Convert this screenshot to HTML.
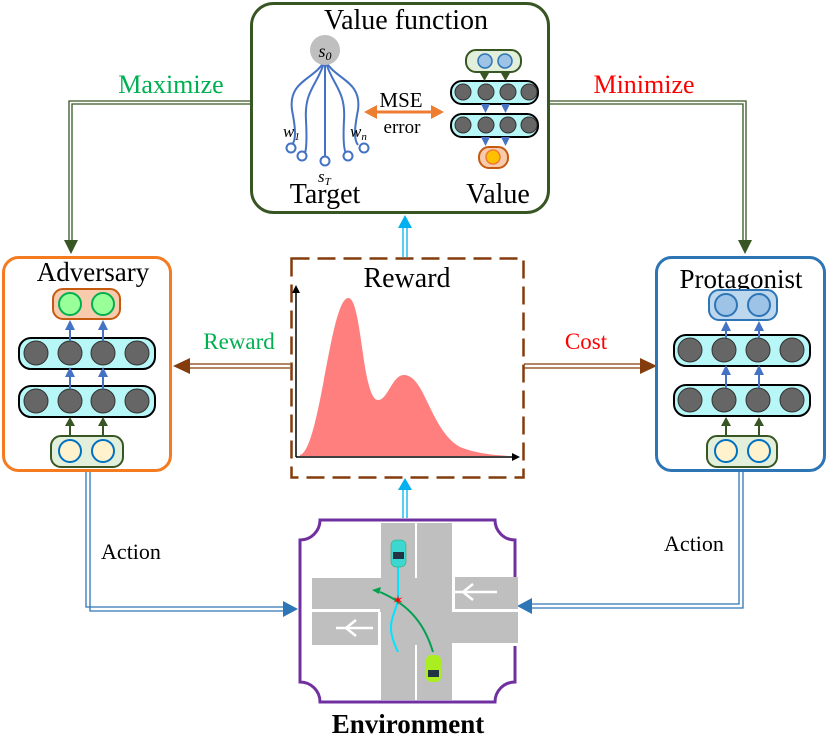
<!DOCTYPE html>
<html><head><meta charset="utf-8"><style>body{margin:0;background:#fff}svg{display:block}text{font-family:"Liberation Serif",serif}</style></head><body>
<svg width="831" height="737" viewBox="0 0 831 737" xmlns="http://www.w3.org/2000/svg">
<!-- connectors -->
<g fill="none" stroke-width="1.3">
<path d="M250,104H72V240M250,101H69V240" stroke="#375623"/>
<path d="M549,104H743V240M549,101H746V240" stroke="#375623"/>
<path d="M290,364H190M290,368H190" stroke="#843C0C"/>
<path d="M524,364H640M524,368H640" stroke="#843C0C"/>
<path d="M403,257V228M407,257V228M403,518V490M407,518V490" stroke="#00B0F0"/>
<path d="M86,471V607H283M90,471V611H283" stroke="#2E75B6"/>
<path d="M739,471V604H532M743,471V608H532" stroke="#2E75B6"/>
</g>
<path d="M64,240h14l-7,14z" fill="#375623"/>
<path d="M738,240h14l-7,14z" fill="#375623"/>
<path d="M190,358v16l-17,-8z" fill="#843C0C"/>
<path d="M640,358v16l17,-8z" fill="#843C0C"/>
<path d="M398,228h14l-7,-13z" fill="#00B0F0"/>
<path d="M398,490h14l-7,-12z" fill="#00B0F0"/>
<path d="M283,601v16l15,-8z" fill="#2E75B6"/>
<path d="M532,598v16l-15,-8z" fill="#2E75B6"/>
<text x="171" y="93" font-size="26" fill="#00B050" text-anchor="middle">Maximize</text>
<text x="644" y="93" font-size="26" fill="#FF0000" text-anchor="middle">Minimize</text>
<text x="239" y="349" font-size="23" fill="#00B050" text-anchor="middle">Reward</text>
<text x="586" y="349" font-size="23" fill="#FF0000" text-anchor="middle">Cost</text>
<text x="131" y="559" font-size="22" text-anchor="middle">Action</text>
<text x="694" y="551" font-size="22" text-anchor="middle">Action</text>

<!-- value function box -->
<rect x="251.5" y="3.5" width="297" height="209" rx="22" fill="#fff" stroke="#375623" stroke-width="3"/>
<text x="406" y="29" font-size="28" text-anchor="middle">Value function</text>
<g fill="none" stroke="#4472C4" stroke-width="2">
<path d="M325,60C315,80 288,80 292,110C296,130 296,140 292,145"/>
<path d="M325,60C318,85 304,90 306,120C307,140 306,150 305,153"/>
<path d="M325,60V157"/>
<path d="M325,60C332,85 346,90 344,120C343,140 344,150 346,153"/>
<path d="M325,60C335,80 362,80 358,110C354,130 354,140 358,145"/>
<circle cx="291" cy="148" r="4.5" fill="#fff"/><circle cx="302" cy="156" r="4.5" fill="#fff"/><circle cx="325" cy="161" r="4.5" fill="#fff"/><circle cx="348" cy="156" r="4.5" fill="#fff"/><circle cx="364" cy="148" r="4.5" fill="#fff"/>
</g>
<circle cx="325" cy="50" r="15" fill="#BFBFBF"/>
<text x="325" y="57" font-size="18" font-style="italic" text-anchor="middle">s<tspan font-size="12" dy="3">0</tspan></text>
<text x="283" y="137" font-size="17" font-style="italic">w<tspan font-size="11" dy="3">1</tspan></text>
<text x="350" y="137" font-size="17" font-style="italic">w<tspan font-size="11" dy="3">n</tspan></text>
<text x="318" y="182" font-size="17" font-style="italic">s<tspan font-size="11" dy="3">T</tspan></text>
<text x="325" y="203" font-size="28" text-anchor="middle">Target</text>
<text x="498" y="203" font-size="28" text-anchor="middle">Value</text>
<path d="M375,112H433" stroke="#ED7D31" stroke-width="3"/>
<path d="M364,112l13,-7v14z M444,112l-13,-7v14z" fill="#ED7D31"/>
<text x="401" y="107" font-size="21" text-anchor="middle">MSE</text>
<text x="402" y="133" font-size="19" text-anchor="middle">error</text>
<rect x="466" y="50" width="55" height="22" rx="10" fill="#E2EFDA" stroke="#375623" stroke-width="2"/>
<circle cx="485" cy="61" r="7" fill="#9DC3E6" stroke="#2E75B6" stroke-width="1.5"/><circle cx="505" cy="61" r="7" fill="#9DC3E6" stroke="#2E75B6" stroke-width="1.5"/>
<rect x="451" y="81" width="87" height="23" rx="11" fill="#B7F7F7" stroke="#000" stroke-width="2"/>
<rect x="451" y="114" width="87" height="23" rx="11" fill="#B7F7F7" stroke="#000" stroke-width="2"/>
<g fill="#666" stroke="#333"><circle cx="463" cy="92" r="8"/><circle cx="486" cy="92" r="8"/><circle cx="508" cy="92" r="8"/><circle cx="529" cy="92" r="8"/><circle cx="463" cy="125" r="8"/><circle cx="486" cy="125" r="8"/><circle cx="508" cy="125" r="8"/><circle cx="529" cy="125" r="8"/></g>
<g fill="#375623"><path d="M480,73h9l-4.5,8z M501,73h9l-4.5,8z"/></g>
<g fill="#4472C4"><path d="M481,104h9l-4.5,9z M501,104h9l-4.5,9z M481,137h9l-4.5,9z M501,137h9l-4.5,9z"/></g>
<rect x="479" y="147" width="29" height="21" rx="10" fill="#F8CBAD" stroke="#C55A11" stroke-width="2"/>
<circle cx="493" cy="157" r="7" fill="#FFC000" stroke="#ED7D31" stroke-width="1.5"/>

<!-- adversary -->
<rect x="3.5" y="257.5" width="167" height="213" rx="15" fill="#fff" stroke="#F47B20" stroke-width="3"/>
<text x="93" y="281" font-size="27" text-anchor="middle">Adversary</text>
<rect x="53" y="289" width="67" height="30" rx="10" fill="#F8CBAD" stroke="#C55A11" stroke-width="2"/>
<circle cx="70" cy="304" r="11" fill="#99FF99" stroke="#00B050" stroke-width="2"/><circle cx="103" cy="304" r="11" fill="#99FF99" stroke="#00B050" stroke-width="2"/>
<rect x="19" y="338" width="136" height="31" rx="12" fill="#B7F7F7" stroke="#000" stroke-width="2"/>
<rect x="19" y="386" width="136" height="31" rx="12" fill="#B7F7F7" stroke="#000" stroke-width="2"/>
<g fill="#666" stroke="#333"><circle cx="36" cy="353" r="12"/><circle cx="70" cy="353" r="12"/><circle cx="103" cy="353" r="12"/><circle cx="137" cy="353" r="12"/><circle cx="36" cy="401" r="12"/><circle cx="70" cy="401" r="12"/><circle cx="103" cy="401" r="12"/><circle cx="137" cy="401" r="12"/></g>
<rect x="51" y="436" width="72" height="31" rx="10" fill="#E2EFDA" stroke="#375623" stroke-width="2"/>
<circle cx="70" cy="451" r="11" fill="#FFF2CC" stroke="#0070C0" stroke-width="2"/><circle cx="103" cy="451" r="11" fill="#FFF2CC" stroke="#0070C0" stroke-width="2"/>
<g stroke-width="2"><path d="M70,341V325M103,341V325M70,389V372M103,389V372" stroke="#4472C4"/><path d="M70,436V423M103,436V423" stroke="#375623"/></g>
<g fill="#4472C4"><path d="M65,330h10l-5,-10z M98,330h10l-5,-10z M65,377h10l-5,-10z M98,377h10l-5,-10z"/></g>
<g fill="#375623"><path d="M65,426h10l-5,-9z M98,426h10l-5,-9z"/></g>

<!-- protagonist -->
<rect x="656.5" y="257.5" width="168" height="213" rx="15" fill="#fff" stroke="#2E75B6" stroke-width="3"/>
<text x="741" y="288" font-size="27" text-anchor="middle">Protagonist</text>
<rect x="709" y="290" width="68" height="30" rx="10" fill="#BDD7EE" stroke="#2E75B6" stroke-width="2"/>
<circle cx="726" cy="305" r="11" fill="#9DC3E6" stroke="#2E75B6" stroke-width="2"/><circle cx="759" cy="305" r="11" fill="#9DC3E6" stroke="#2E75B6" stroke-width="2"/>
<rect x="674" y="335" width="136" height="31" rx="12" fill="#B7F7F7" stroke="#000" stroke-width="2"/>
<rect x="674" y="385" width="136" height="31" rx="12" fill="#B7F7F7" stroke="#000" stroke-width="2"/>
<g fill="#666" stroke="#333"><circle cx="690" cy="350" r="12"/><circle cx="724" cy="350" r="12"/><circle cx="758" cy="350" r="12"/><circle cx="792" cy="350" r="12"/><circle cx="690" cy="400" r="12"/><circle cx="724" cy="400" r="12"/><circle cx="758" cy="400" r="12"/><circle cx="792" cy="400" r="12"/></g>
<rect x="707" y="436" width="70" height="31" rx="10" fill="#E2EFDA" stroke="#375623" stroke-width="2"/>
<circle cx="726" cy="451" r="11" fill="#FFF2CC" stroke="#0070C0" stroke-width="2"/><circle cx="759" cy="451" r="11" fill="#FFF2CC" stroke="#0070C0" stroke-width="2"/>
<g stroke-width="2"><path d="M726,338V326M759,338V326M726,388V370M759,388V370" stroke="#4472C4"/><path d="M726,436V422M759,436V422" stroke="#375623"/></g>
<g fill="#4472C4"><path d="M721,331h10l-5,-10z M754,331h10l-5,-10z M721,375h10l-5,-10z M754,375h10l-5,-10z"/></g>
<g fill="#375623"><path d="M721,426h10l-5,-9z M754,426h10l-5,-9z"/></g>

<!-- reward chart -->
<rect x="291.5" y="258.5" width="232" height="219" fill="#fff" stroke="#843C0C" stroke-width="2.5" stroke-dasharray="18,8"/>
<text x="407" y="287" font-size="28" text-anchor="middle">Reward</text>
<path d="M300,455C320,450 330,300 348,298C362,296 362,400 378,400C388,400 392,375 404,375C425,375 430,430 460,447C480,455 500,455 508,456H300z" fill="#FF7F7F"/>
<path d="M296,457H512M296,457V292" stroke="#000" stroke-width="1.5" fill="none"/>
<path d="M512,453l8,4l-8,4z M292,293l4,-8l4,8z" fill="#000"/>

<!-- environment -->
<path d="M320,520H495A20,20 0 0 0 515,540V682A20,20 0 0 0 495,702H320A20,20 0 0 0 300,682V540A20,20 0 0 0 320,520Z" fill="#fff" stroke="#7030A0" stroke-width="3"/>
<g fill="#BFBFBF">
<rect x="380" y="523" width="72" height="177"/>
<rect x="312" y="577" width="206" height="68"/>
</g>
<g fill="#fff">
<rect x="415" y="523" width="2" height="55"/>
<rect x="378" y="523" width="3" height="55"/>
<rect x="312" y="609" width="68" height="3"/>
<rect x="452" y="609" width="66" height="3"/>
<rect x="415" y="645" width="2" height="55"/>
<rect x="378" y="645" width="3" height="55"/>
<rect x="312" y="575" width="68" height="3"/>
<rect x="452" y="643" width="66" height="3"/>
<rect x="452" y="575" width="3" height="35"/>
<rect x="378" y="612" width="3" height="33"/>
</g>
<path d="M455,592H497M463,592l10,-8M463,592l10,8M336,628H373M346,628l10,-8M346,628l10,8" stroke="#fff" stroke-width="2.5" fill="none"/>
<path d="M398,565V600C393,620 385,625 398,652" stroke="#00E5FF" stroke-width="2" fill="none"/>
<path d="M433,652C425,625 410,605 380,592" stroke="#00A050" stroke-width="2" fill="none"/>
<path d="M372,590l9,-3l-2,7z" fill="#00A050"/>
<rect x="391" y="540" width="15" height="27" rx="5" fill="#3DD6D0" stroke="#1a6" stroke-width="0.5"/>
<rect x="393" y="552" width="11" height="7" fill="#234"/>
<rect x="426" y="655" width="15" height="27" rx="5" fill="#AAEE22"/>
<rect x="428" y="670" width="11" height="7" fill="#234"/>
<text x="398" y="605" font-size="14" fill="#F00" text-anchor="middle">✶</text>
<text x="408" y="733" font-size="27" font-weight="bold" text-anchor="middle">Environment</text>
</svg>
</body></html>
